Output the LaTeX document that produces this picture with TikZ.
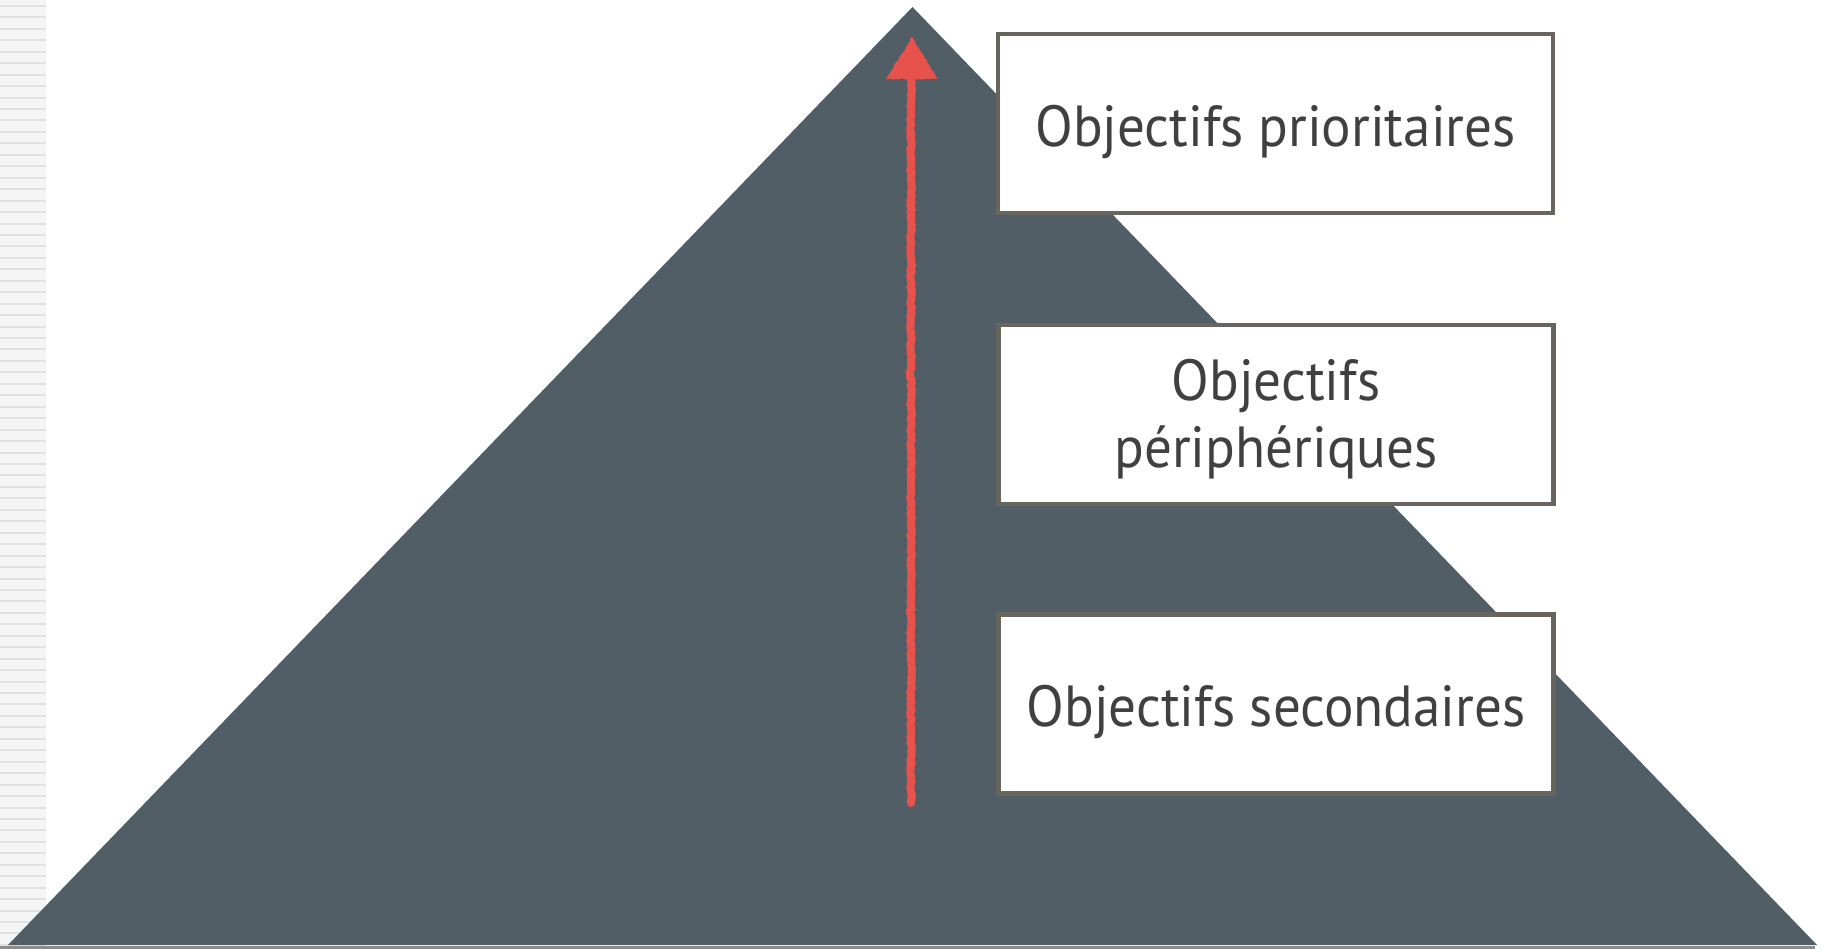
\documentclass[tikz,border=0pt]{standalone}
\usepackage{fontspec}
\setmainfont[FakeStretch=0.95]{PT Sans}
\usetikzlibrary{decorations.pathmorphing}
\definecolor{slate}{HTML}{515E66}
\definecolor{frame}{HTML}{68645E}
\definecolor{ink}{HTML}{404040}
\definecolor{chalk}{HTML}{E8524C}
\definecolor{stripebg}{HTML}{F5F5F5}
\definecolor{stripeln}{HTML}{E2E2E2}
\tikzset{
  goalbox/.style={draw=frame, line width=4.5pt, fill=white, minimum width=555pt,
    minimum height=179pt, inner sep=0pt},
  goaltext/.style={align=center, text=ink, inner sep=0pt,
    font=\fontsize{58}{67}\selectfont},
  chalkline/.style={draw=chalk, line width=8pt, line cap=round,
    decorate, decoration={random steps, segment length=3pt, amplitude=0.8pt}},
}
\begin{document}
\begin{tikzpicture}[x=1pt,y=-1pt]
  \useasboundingbox (0,0) rectangle (1825,949);
  \fill[white] (0,0) rectangle (1825,949);
  % striped margin on the left
  \fill[stripebg] (0,0) rectangle (46,949);
  \foreach \k in {0,...,82} {
    \fill[stripeln] (0,{5+11.45*\k}) rectangle (46,{7+11.45*\k});
  }
  % the pyramid
  \coordinate (apex) at (912.5,7);
  \coordinate (bl) at (8,945);
  \coordinate (br) at (1817,945);
  \fill[slate] (bl) -- (apex) -- (br) -- cycle;
  \fill[black!45] (0,945.5) rectangle (1815,949);
  % rising arrow
  \coordinate (foot) at (911,803);
  \coordinate (neck) at (911,79);
  \coordinate (tip) at (912,37);
  \draw[chalkline] (foot) -- (neck);
  \fill[chalk, decorate, decoration={random steps, segment length=2.5pt, amplitude=0.8pt}]
    (tip) -- (938,79) -- (886,79) -- cycle;
  % the three goal levels
  \node[goalbox] (prio) at (1275.5,123.5) {};
  \node[goalbox] (peri) at (1276,414.5) {};
  \node[goalbox] (sec) at (1276,704) {};
  \node[goaltext] (prioT) at ([yshift=-9pt]prio.center) {Objectifs prioritaires};
  \node[goaltext] (periT) at ([yshift=-5pt]peri.center) {Objectifs\\périphériques};
  \node[goaltext] (secT) at ([yshift=-8pt]sec.center) {Objectifs secondaires};
\end{tikzpicture}
\end{document}
